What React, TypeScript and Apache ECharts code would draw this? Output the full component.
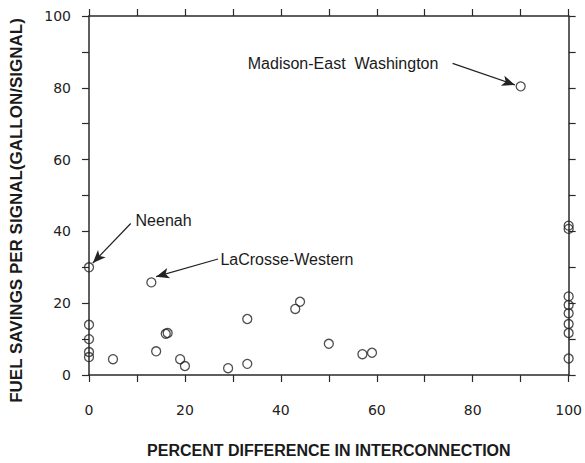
import React, { useEffect, useRef } from "react";
import * as echarts from "echarts";

// Percent difference in interconnection (x) and fuel savings per signal (y)
const xValues = [0, 0, 0, 0, 0, 5, 13, 14, 16, 16.4, 19, 20, 29, 33, 33, 43, 44, 50, 57, 59, 90, 100, 100, 100, 100, 100, 100, 100, 100];
const yValues = [30, 14, 10, 6.4, 5, 4.4, 25.8, 6.6, 11.5, 11.7, 4.4, 2.5, 1.9, 3.1, 15.6, 18.4, 20.4, 8.7, 5.8, 6.2, 80.4, 41.6, 40.7, 21.9, 19.5, 17.2, 14.2, 11.7, 4.6];

const xTicks = [0, 20, 40, 60, 80, 100];
const yTicks = [0, 20, 40, 60, 80, 100];

// Annotations: label text, label anchor [x, y], arrow start [x, y], arrow tip [x, y]
const annotationLabels = ["Madison-East  Washington", "Neenah", "LaCrosse-Western"];
const annotationAnchors = [[33.1, 86.8], [9.7, 43.1], [27.4, 32.3]];
const arrowStarts = [[75.8, 86.8], [8.7, 42.2], [26.9, 32.3]];
const arrowTips = [[88.8, 80.8], [0.8, 31.2], [14.0, 27.4]];

const axisColor = "#2a2a2a";
const labelFont = "DejaVu Sans";
const nameFont = "Liberation Sans";

export default function App() {
  const ref = useRef<HTMLDivElement>(null);

  useEffect(() => {
    if (!ref.current) return;
    document.documentElement.style.overflow = "hidden";
    document.body.style.overflow = "hidden";
    document.body.style.margin = "0";
    const chart = echarts.init(ref.current, undefined, { renderer: "svg" });
    const data = xValues.map((x, i) => [x, yValues[i]]);

    const tickFormatter = (ticks: number[]) => (v: number) => (ticks.includes(v) ? String(v) : "");

    const baseAxis = {
      type: "value" as const,
      min: 0,
      max: 100,
      interval: 10,
      splitLine: { show: false },
      axisLine: { show: true, onZero: false, lineStyle: { color: axisColor, width: 1.5 } },
      axisTick: { show: true, inside: false, length: 7, lineStyle: { color: axisColor, width: 1.2 } },
    };

    chart.setOption({
      animation: false,
      backgroundColor: "#ffffff",
      grid: { left: 88, right: 13, top: 16, bottom: 83, containLabel: false },
      xAxis: [
        {
          ...baseAxis,
          position: "bottom",
          name: "PERCENT DIFFERENCE IN INTERCONNECTION",
          nameLocation: "middle",
          nameGap: 75,
          nameTextStyle: {
            fontFamily: nameFont,
            fontWeight: "bold",
            fontSize: 16,
            lineHeight: 12,
            verticalAlign: "middle",
            color: "#1a1a1a",
          },
          axisLabel: {
            formatter: tickFormatter(xTicks),
            margin: 28,
            fontFamily: labelFont,
            fontSize: 14,
            color: "#222",
          },
        },
        {
          ...baseAxis,
          position: "top",
          axisLabel: { show: false },
        },
      ],
      yAxis: [
        {
          ...baseAxis,
          position: "left",
          name: "FUEL SAVINGS PER SIGNAL(GALLON/SIGNAL)",
          nameLocation: "middle",
          nameRotate: 90,
          nameGap: 64,
          nameTextStyle: {
            fontFamily: nameFont,
            fontWeight: "bold",
            fontSize: 17,
            color: "#1a1a1a",
            padding: [0, 30, 0, 0],
          },
          axisLabel: {
            formatter: tickFormatter(yTicks),
            margin: 18,
            fontFamily: labelFont,
            fontSize: 14,
            color: "#222",
          },
        },
        {
          ...baseAxis,
          position: "right",
          axisLabel: { show: false },
        },
      ],
      series: [
        {
          type: "scatter",
          xAxisIndex: 0,
          yAxisIndex: 0,
          data,
          clip: false,
          symbol: "circle",
          symbolSize: 9,
          itemStyle: { color: "rgba(0,0,0,0)", borderColor: "#222", borderWidth: 1.3 },
          silent: true,
          markLine: {
            silent: true,
            animation: false,
            label: { show: false },
            lineStyle: { color: "#222", width: 1.2, type: "solid" },
            data: arrowStarts.map((s, i) => [
              { coord: s, symbol: "none" },
              { coord: arrowTips[i], symbol: "arrow", symbolSize: [8, 13] },
            ]),
          },
          markPoint: {
            silent: true,
            animation: false,
            symbol: "circle",
            symbolSize: 0,
            data: annotationLabels.map((t, i) => ({
              coord: annotationAnchors[i],
              value: t,
              label: {
                show: true,
                position: "right",
                distance: 0,
                formatter: t,
                fontFamily: nameFont,
                fontSize: 16,
                color: "#1a1a1a",
              },
            })),
          },
        },
      ],
    });

    return () => chart.dispose();
  }, []);

  return (
    <div
      ref={ref}
      style={{ position: "absolute", left: 0, top: 0, width: 585, height: 463, overflow: "hidden" }}
    />
  );
}
